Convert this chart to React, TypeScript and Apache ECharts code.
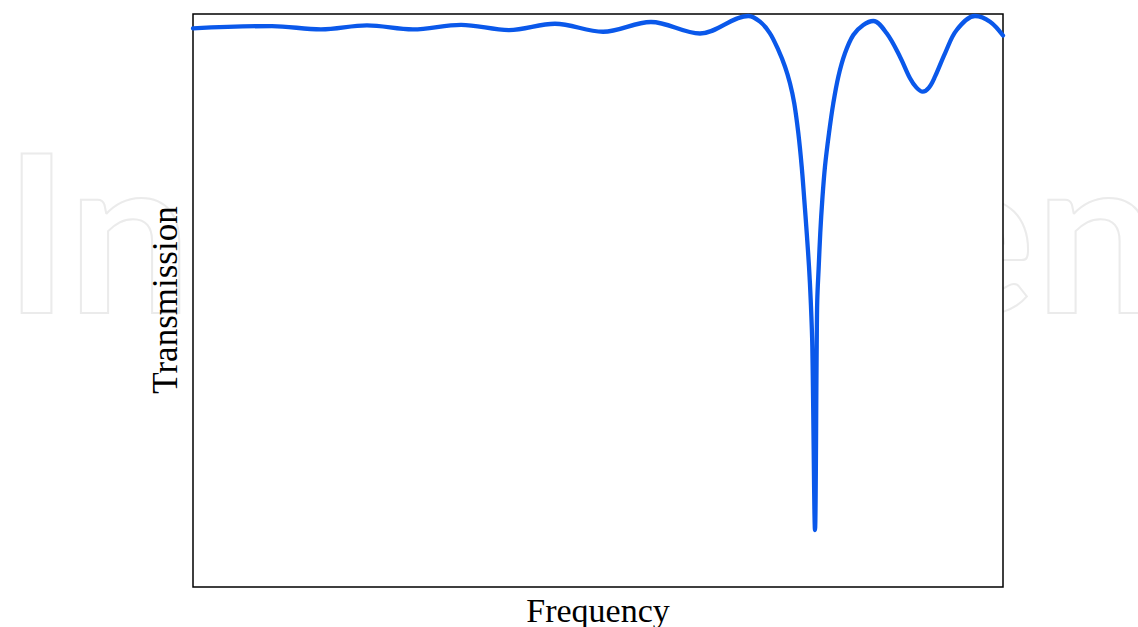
import React, { useEffect, useRef } from "react";
import * as echarts from "echarts";

// Frequency (arbitrary units, 0..100) and transmission (normalised, 0..1)
const frequency: number[] = [
  0, 9.75, 15.8, 21.48, 27.16, 33.09, 39.01, 44.69, 50.62, 56.54, 62.59,
  68.56, 70.0, 71.23, 72.26, 73.09, 73.7, 74.23, 74.73, 75.15, 75.47, 75.77,
  76.05, 76.26, 76.46,
  76.79,
  77.0, 77.07, 77.25, 77.44, 77.69, 78.02, 78.52, 79.05, 79.67, 80.49, 81.52,
  82.75, 83.99, 85.64, 87.28, 88.52, 89.32, 90.09, 90.86, 91.6, 92.84, 94.28,
  96.54, 98.4, 100,
];
const transmission: number[] = [
  0.975, 0.979, 0.973, 0.98, 0.973, 0.981, 0.972, 0.983, 0.969, 0.986, 0.966,
  0.9965, 0.9866, 0.9663, 0.9372, 0.908, 0.8791, 0.8442, 0.7923, 0.7335,
  0.6754, 0.6178, 0.559, 0.5009, 0.4194,
  0.0995,
  0.4194, 0.5009, 0.559, 0.6178, 0.6754, 0.7335, 0.7923, 0.8442, 0.8906,
  0.9314, 0.9634, 0.9808, 0.9878, 0.9663, 0.9255, 0.8878, 0.8715, 0.8644,
  0.8715, 0.8906, 0.9314, 0.9721, 0.9965, 0.9866, 0.9625,
];

const xTitle = "Frequency";
const yTitle = "Transmission";
const watermark = "IntechOpen";

export default function App() {
  const ref = useRef<HTMLDivElement>(null);

  useEffect(() => {
    if (!ref.current) return;
    const chart = echarts.init(ref.current, undefined, { renderer: "svg" });
    const data = frequency.map((f, i) => [f, transmission[i]]);
    chart.setOption({
      animation: false,
      backgroundColor: "#ffffff",
      grid: {
        left: 193,
        right: 135,
        top: 14,
        bottom: 40,
        show: true,
        backgroundColor: "#ffffff",
        borderColor: "#000000",
        borderWidth: 1.5,
        z: 1,
      },
      xAxis: {
        type: "value",
        min: 0,
        max: 100,
        axisLine: { show: false },
        axisTick: { show: false },
        axisLabel: { show: false },
        splitLine: { show: false },
      },
      yAxis: {
        type: "value",
        min: 0,
        max: 1,
        axisLine: { show: false },
        axisTick: { show: false },
        axisLabel: { show: false },
        splitLine: { show: false },
      },
      graphic: [
        {
          type: "text",
          z: -10,
          silent: true,
          x: 4,
          y: 228,
          style: {
            text: watermark,
            fontFamily: "Lato",
            fontSize: 220,
            fontWeight: "bold",
            fill: "none",
            stroke: "#ebebeb",
            lineWidth: 2,
            textAlign: "left",
            textVerticalAlign: "middle",
          },
        },
        {
          type: "text",
          z: 10,
          x: 598,
          y: 610,
          style: {
            text: xTitle,
            fontFamily: "Liberation Serif",
            fontSize: 34,
            fill: "#000000",
            textAlign: "center",
            textVerticalAlign: "middle",
          },
        },
        {
          type: "text",
          z: 10,
          x: 165,
          y: 300,
          rotation: Math.PI / 2,
          style: {
            text: yTitle,
            fontFamily: "Liberation Serif",
            fontSize: 35,
            fill: "#000000",
            textAlign: "center",
            textVerticalAlign: "middle",
          },
        },
      ],
      series: [
        {
          type: "line",
          data,
          smooth: 0.35,
          showSymbol: false,
          symbol: "none",
          lineStyle: { color: "#0a58ea", width: 4.3, cap: "round", join: "round" },
          z: 5,
        },
      ],
    });
    return () => chart.dispose();
  }, []);

  return (
    <div
      ref={ref}
      style={{ position: "fixed", left: 0, top: 0, width: 1138, height: 627 }}
    />
  );
}
